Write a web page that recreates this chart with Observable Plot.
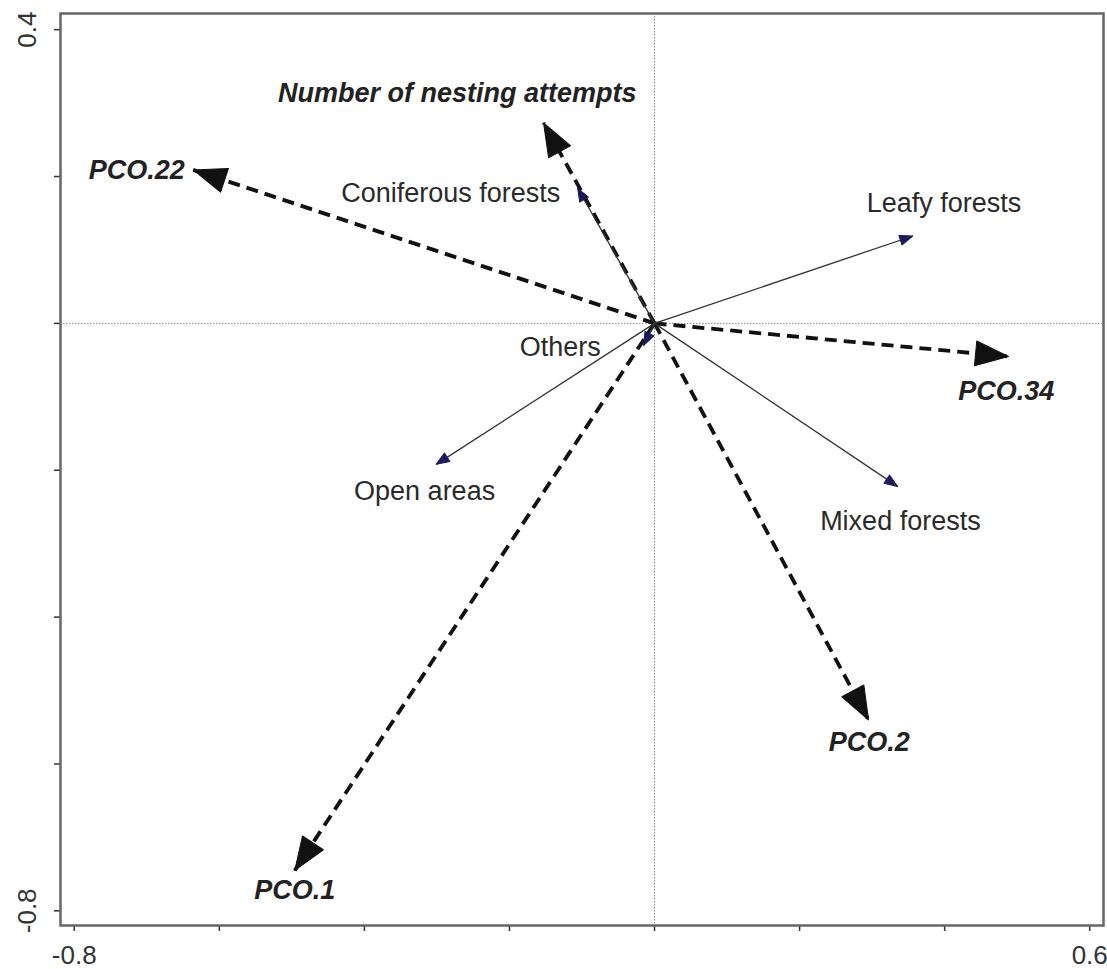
<!DOCTYPE html>
<html>
<head>
<meta charset="utf-8">
<script src="https://cdn.jsdelivr.net/npm/d3@7"></script>
<script src="https://cdn.jsdelivr.net/npm/@observablehq/plot@0.6"></script>
<style>
  html, body { margin: 0; padding: 0; background: #fff; }
  #chart svg { display: block; }
</style>
</head>
<body>
<div id="chart"></div>
<script>
// ---- data (biplot vector end points and label anchors, in data units) ----
const pcoNames  = ["PCO.1", "PCO.2", "PCO.22", "PCO.34", "Number of nesting attempts"];
const pcoX      = [-0.496, 0.295, -0.636, 0.488, -0.153];
const pcoY      = [-0.745, -0.540, 0.209, -0.045, 0.273];
const pcoLabelX = [-0.496, 0.296, -0.714, 0.485, -0.272];
const pcoLabelY = [-0.784, -0.582, 0.197, -0.105, 0.301];

const habNames  = ["Coniferous forests", "Leafy forests", "Mixed forests", "Open areas", "Others"];
const habX      = [-0.106, 0.356, 0.335, -0.301, -0.015];
const habY      = [0.184, 0.119, -0.222, -0.192, -0.030];
const habLabelX = [-0.281, 0.399, 0.339, -0.317, -0.130];
const habLabelY = [0.165, 0.151, -0.281, -0.240, -0.044];

const xTicks = [-0.8, -0.6, -0.4, -0.2, 0, 0.2, 0.4, 0.6];
const yTicks = [0.4, 0.2, 0, -0.2, -0.4, -0.6, -0.8];
const xTickLabelValues = [-0.8, 0.6];
const xTickLabels = ["-0.8", "0.6"];
const yTickLabelValues = [0.4, -0.8];
const yTickLabels = ["0.4", "-0.8"];
const origin = [0, 0];

// ---- tables built from the arrays ----
const pco = pcoNames.map((name, i) => ({name, x: pcoX[i], y: pcoY[i], lx: pcoLabelX[i], ly: pcoLabelY[i]}));
const hab = habNames.map((name, i) => ({name, x: habX[i], y: habY[i], lx: habLabelX[i], ly: habLabelY[i]}));
const xLab = xTickLabelValues.map((v, i) => ({v, t: xTickLabels[i]}));
const yLab = yTickLabelValues.map((v, i) => ({v, t: yTickLabels[i]}));

const font = "'Liberation Sans', Arial, Helvetica, sans-serif";
const base = {
  width: 1107,
  height: 969,
  marginLeft: 60,
  marginRight: 4,
  marginTop: 13,
  marginBottom: 44,
  x: {domain: [-0.819, 0.619]},
  y: {domain: [-0.820, 0.422]},
  style: {fontFamily: font, background: "#fff", color: "#222"}
};

// first pass: read the scales so arrowheads point along the vectors in screen space
const probe = Plot.plot({...base, marks: [Plot.frame()]});
const sx = probe.scale("x"), sy = probe.scale("y");
const px = d3.scaleLinear(sx.domain, sx.range);
const py = d3.scaleLinear(sy.domain, sy.range);
const angle = d => {
  const dx = px(d.x) - px(origin[0]);
  const dy = py(d.y) - py(origin[1]);
  return Math.atan2(dx, -dy) * 180 / Math.PI;
};

// filled triangle head (tip at the vector end)
const triangle = {
  draw(ctx, l, r) {
    ctx.moveTo(0, -l);
    ctx.lineTo(r, 0);
    ctx.lineTo(-r, 0);
    ctx.closePath();
  }
};

const chart = Plot.plot({
  ...base,
  marks: [
    // reference lines through the origin
    Plot.ruleX([origin[0]], {stroke: "#888", strokeWidth: 1, strokeDasharray: "1.5,1.5"}),
    Plot.ruleY([origin[1]], {stroke: "#888", strokeWidth: 1, strokeDasharray: "1.5,1.5"}),
    // axes ticks
    Plot.axisX({ticks: xTicks, tickSize: 6, tickFormat: () => "", label: null, stroke: "#333", strokeWidth: 1.5}),
    Plot.axisY({ticks: yTicks, tickSize: 6, tickFormat: () => "", label: null, stroke: "#333", strokeWidth: 1.5}),
    Plot.text(xLab, {x: "v", text: "t", frameAnchor: "bottom", textAnchor: "middle", lineAnchor: "bottom",
      dy: 38, fontSize: 26, fill: "#333"}),
    Plot.text(yLab, {y: "v", text: "t", frameAnchor: "left", textAnchor: "middle", lineAnchor: "middle",
      dx: -33, rotate: -90, fontSize: 26, fill: "#333"}),
    // PCO / response vectors (dashed, big heads)
    Plot.link(pco, {x1: () => origin[0], y1: () => origin[1], x2: "x", y2: "y",
      stroke: "#111", strokeWidth: 3.8, strokeDasharray: "12,7"}),
    Plot.vector(pco, {x: "x", y: "y", rotate: angle, length: 33, r: 12.5, anchor: "end",
      shape: triangle, fill: "#111", stroke: "#111", strokeWidth: 1}),
    // habitat vectors (thin, small navy heads)
    Plot.link(hab, {x1: () => origin[0], y1: () => origin[1], x2: "x", y2: "y",
      stroke: "#333", strokeWidth: 1.3}),
    Plot.vector(hab, {x: "x", y: "y", rotate: angle, length: 13, r: 5, anchor: "end",
      shape: triangle, fill: "#1a1a5c", stroke: "#1a1a5c", strokeWidth: 1}),
    // labels
    Plot.text(pco, {x: "lx", y: "ly", text: "name", lineAnchor: "bottom", fontSize: 27,
      fontWeight: "bold", fontStyle: "italic", fill: "#222"}),
    Plot.text(hab, {x: "lx", y: "ly", text: "name", lineAnchor: "bottom", fontSize: 27, fill: "#2a2a2a"}),
    Plot.frame({stroke: "#666", strokeWidth: 2.5})
  ]
});
document.getElementById("chart").appendChild(chart);
</script>
</body>
</html>
